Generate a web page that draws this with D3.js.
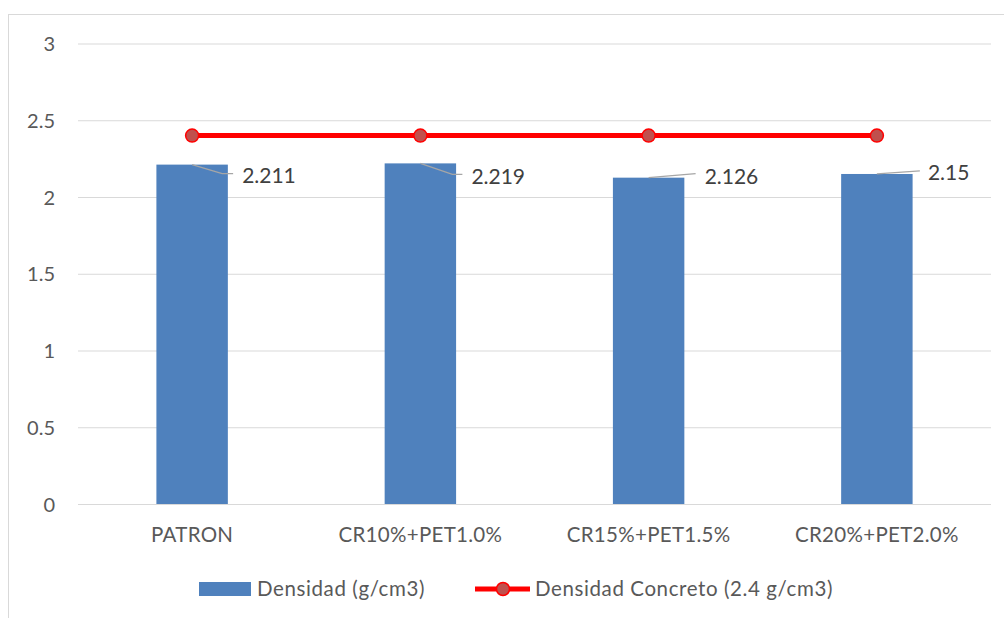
<!DOCTYPE html>
<html>
<head>
<meta charset="utf-8">
<script src="https://cdn.jsdelivr.net/npm/d3@7/dist/d3.min.js"></script>
<style>
  html, body { margin: 0; padding: 0; background: #fff; }
  svg { display: block; font-family: Lato, "Open Sans", sans-serif; }
</style>
</head>
<body>
<svg id="chart" width="1004" height="618"></svg>
<script>
// Data
const categories = ["PATRON", "CR10%+PET1.0%", "CR15%+PET1.5%", "CR20%+PET2.0%"];
const densidad = [2.211, 2.219, 2.126, 2.15];
const densidadConcreto = [2.4, 2.4, 2.4, 2.4];
const yTicks = [0, 0.5, 1, 1.5, 2, 2.5, 3];
const seriesNames = ["Densidad (g/cm3)", "Densidad Concreto (2.4 g/cm3)"];

// Layout
const W = 1004, H = 618;
const plot = { left: 78, right: 991, top: 43.5, bottom: 504 };
const textColor = "#595959";
const barColor = "#4F81BD";
// Data-label placement relative to bar top centre: leader elbow, leader end, text anchor
const labelLayout = [
  { elbow: [30, 9], end: [41, 9], text: [50, 18] },
  { elbow: [32, 11], end: [42, 11], text: [51, 21] },
  { elbow: [47, -4], end: [47, -4], text: [56, 6] },
  { elbow: [43, -3], end: [43, -3], text: [51, 6] }
];

const svg = d3.select("#chart");

// Chart frame
svg.append("rect")
  .attr("x", 8.5).attr("y", 14.5)
  .attr("width", W + 20).attr("height", H + 20)
  .attr("fill", "#fff").attr("stroke", "#d9d9d9").attr("stroke-width", 1);

const x = d3.scaleBand().domain(categories).range([plot.left, plot.right]).paddingInner(0).paddingOuter(0);
const y = d3.scaleLinear().domain([0, 3]).range([plot.bottom, plot.top]);

// Gridlines + y labels
const yAxis = d3.axisLeft(y).tickValues(yTicks).tickSize(-(plot.right - plot.left)).tickPadding(23)
  .tickFormat(d3.format("~g"));
const gy = svg.append("g").attr("transform", `translate(${plot.left},0)`).call(yAxis);
gy.select(".domain").remove();
gy.selectAll(".tick line").attr("stroke", "#d9d9d9").attr("stroke-width", 1);
gy.selectAll(".tick text").attr("fill", textColor).style("font-size", "20px")
  .style("font-family", "Lato, sans-serif").attr("dy", "0.35em");

// Bars
const barW = x.bandwidth() * 0.313;
svg.append("g").selectAll("rect").data(densidad).join("rect")
  .attr("x", (d, i) => x(categories[i]) + x.bandwidth() / 2 - barW / 2)
  .attr("y", d => y(d))
  .attr("width", barW)
  .attr("height", d => y(0) - y(d))
  .attr("fill", barColor);

// x axis labels
const xAxis = d3.axisBottom(x).tickSize(0).tickPadding(23);
const gx = svg.append("g").attr("transform", `translate(0,${plot.bottom})`).call(xAxis);
gx.select(".domain").remove();
gx.selectAll(".tick text").attr("fill", textColor).style("font-size", "20.5px")
  .style("letter-spacing", "0.3px")
  .style("font-family", "Lato, sans-serif");

// Data labels with leader lines
const lbl = svg.append("g");
densidad.forEach((d, i) => {
  const cx = x(categories[i]) + x.bandwidth() / 2;
  const cy = y(d);
  const L = labelLayout[i];
  const pts = [[cx, cy], [cx + L.elbow[0], cy + L.elbow[1]], [cx + L.end[0], cy + L.end[1]]];
  lbl.append("path")
    .attr("d", d3.line()(pts))
    .attr("fill", "none").attr("stroke", "#a6a6a6").attr("stroke-width", 1.3);
  lbl.append("text")
    .attr("x", cx + L.text[0]).attr("y", cy + L.text[1])
    .attr("fill", "#404040").style("font-size", "21px")
    .text(d);
});

// Reference line series
const line = d3.line().x((d, i) => x(categories[i]) + x.bandwidth() / 2).y(d => y(d));
svg.append("path").datum(densidadConcreto)
  .attr("d", line).attr("fill", "none").attr("stroke", "#FF0000").attr("stroke-width", 5);
svg.append("g").selectAll("circle").data(densidadConcreto).join("circle")
  .attr("cx", (d, i) => x(categories[i]) + x.bandwidth() / 2)
  .attr("cy", d => y(d))
  .attr("r", 6.5)
  .attr("fill", "#C0504D").attr("stroke", "#FF0000").attr("stroke-width", 1.5);

// Legend
const leg = svg.append("g");
const ly = 589;
leg.append("rect").attr("x", 199).attr("y", ly - 7).attr("width", 52).attr("height", 14).attr("fill", barColor);
leg.append("text").attr("x", 257).attr("y", ly).attr("dy", "0.35em")
  .attr("fill", textColor).style("font-size", "20.5px").style("letter-spacing", "0.6px")
  .text(seriesNames[0]);
leg.append("line").attr("x1", 475).attr("x2", 530).attr("y1", ly).attr("y2", ly)
  .attr("stroke", "#FF0000").attr("stroke-width", 5);
leg.append("circle").attr("cx", 503).attr("cy", ly).attr("r", 6.5)
  .attr("fill", "#C0504D").attr("stroke", "#FF0000").attr("stroke-width", 1.5);
leg.append("text").attr("x", 535).attr("y", ly).attr("dy", "0.35em")
  .attr("fill", textColor).style("font-size", "20.5px").style("letter-spacing", "0.6px")
  .text(seriesNames[1]);
</script>
</body>
</html>
